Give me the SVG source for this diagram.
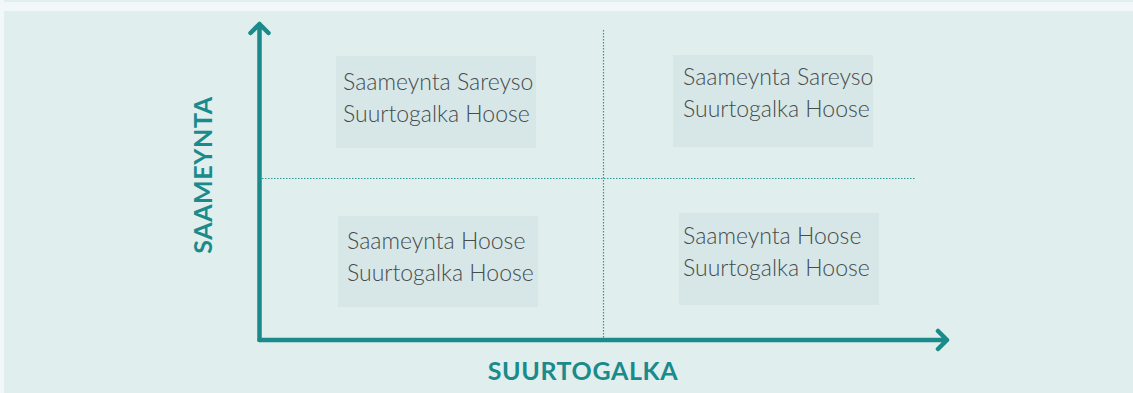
<svg xmlns="http://www.w3.org/2000/svg" width="1133" height="393" viewBox="0 0 1133 393">
<style>
.box{fill:#d7e7e7}
.t{font-family:Lato,"Liberation Sans",sans-serif;font-weight:300;font-size:23px;fill:#464b4d}
.ax{font-family:Lato,"Liberation Sans",sans-serif;font-weight:700;font-size:25px;fill:#1a8a8a;letter-spacing:0.6px}
.axis{stroke:#1a8a8a;stroke-width:4.5;fill:none;stroke-linecap:round;stroke-linejoin:round}
.dot{stroke:#2a9a9a;stroke-width:1.2;stroke-dasharray:1.5 1.5;fill:none}
</style>
<rect x="0" y="0" width="1133" height="393" fill="#f2f7f7"/>
<rect x="4" y="0" width="1129" height="2" fill="#e1eeee"/>
<rect x="4" y="11" width="1129" height="382" fill="#e1eeee"/>
<g id="connectors">
<line class="dot" x1="262" y1="178.5" x2="915" y2="178.5"/>
<line class="dot" x1="603.5" y1="30" x2="603.5" y2="338"/>
<path class="axis" d="M259.5 340 L259.5 24 M250.5 33 L259.5 24 L268.5 33"/>
<path class="axis" d="M259.5 340 L947 340 M938 331 L947 340 L938 349"/>
</g>
<g id="node-tl">
<rect class="box" x="336" y="56" width="200" height="92"/>
<text class="t" x="343" y="90">Saameynta Sareyso</text>
<text class="t" x="343" y="122">Suurtogalka Hoose</text>
</g>
<g id="node-tr">
<rect class="box" x="673" y="55" width="200" height="92"/>
<text class="t" x="683" y="85">Saameynta Sareyso</text>
<text class="t" x="683" y="117">Suurtogalka Hoose</text>
</g>
<g id="node-bl">
<rect class="box" x="338" y="216" width="200" height="91"/>
<text class="t" x="347" y="249">Saameynta Hoose</text>
<text class="t" x="347" y="281">Suurtogalka Hoose</text>
</g>
<g id="node-br">
<rect class="box" x="679" y="213" width="200" height="92"/>
<text class="t" x="683" y="244">Saameynta Hoose</text>
<text class="t" x="683" y="276">Suurtogalka Hoose</text>
</g>
<g id="label-x">
<text class="ax" x="583" y="380" text-anchor="middle">SUURTOGALKA</text>
</g>
<g id="label-y">
<text class="ax" transform="translate(212 175) rotate(-90)" x="0" y="0" text-anchor="middle">SAAMEYNTA</text>
</g>
</svg>
